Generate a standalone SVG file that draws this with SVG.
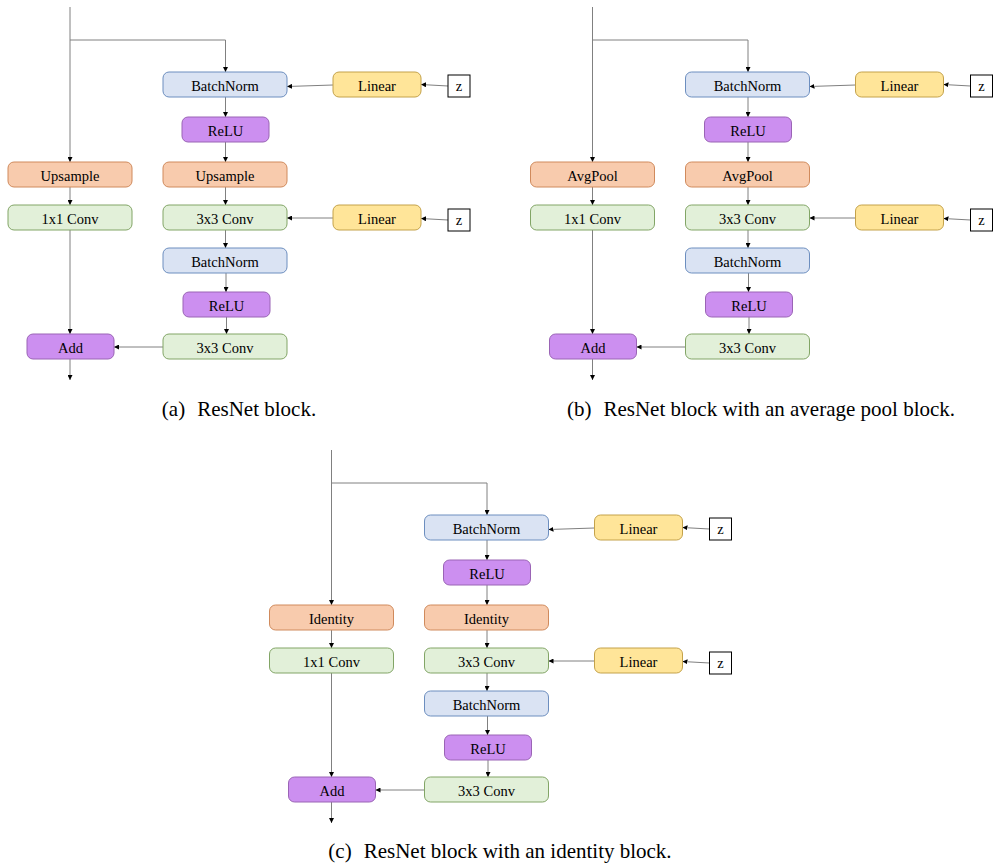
<svg xmlns="http://www.w3.org/2000/svg" width="995" height="867" viewBox="0 0 995 867">
<defs>
<style>
.bn{fill:#dae3f3;stroke:#6c8ebf;stroke-width:1}
.relu{fill:#cc8ff0;stroke:#9a64b5;stroke-width:1}
.up{fill:#f8cbad;stroke:#d08a5c;stroke-width:1}
.conv{fill:#e2f0d9;stroke:#82a566;stroke-width:1}
.lin{fill:#ffe599;stroke:#c4a24a;stroke-width:1}
.zb{fill:#ffffff;stroke:#000000;stroke-width:1}
.edge{fill:none;stroke:#808080;stroke-width:1;marker-end:url(#ah)}
.t{font-family:'Liberation Serif','Times New Roman',serif;font-size:14.5px;text-anchor:middle;fill:#000}
.cap{font-family:'Liberation Serif','Times New Roman',serif;font-size:21px;text-anchor:middle;fill:#000}
</style>
<marker id="ah" viewBox="0 0 6 6" refX="6" refY="3" markerWidth="5" markerHeight="5" markerUnits="userSpaceOnUse" orient="auto">
<path d="M0,0 L6,3 L0,6 z" fill="#000"/>
</marker>
</defs>
<rect width="995" height="867" fill="#ffffff"/>

<!-- Panel (a) -->
<g id="panel-a">
<g id="a-connectors">
<path class="edge" d="M70,7 V162"/>
<path class="edge" d="M70,40 H225.5 V72"/>
<path class="edge" d="M225.5,97 V117"/>
<path class="edge" d="M225.5,142 V162"/>
<path class="edge" d="M225.5,187 V205"/>
<path class="edge" d="M225.5,230 V248"/>
<path class="edge" d="M226,273 V292"/>
<path class="edge" d="M226.5,317 V334"/>
<path class="edge" d="M163,347 H114"/>
<path class="edge" d="M70,187 V205"/>
<path class="edge" d="M70,230 V334"/>
<path class="edge" d="M70,359 V380"/>
<path class="edge" d="M448,86 L421,84.5"/>
<path class="edge" d="M333,85 L287,86.5"/>
<path class="edge" d="M448,220 L421,218.5"/>
<path class="edge" d="M333,218 H287"/>
</g>
<g id="a-batchnorm1"><rect class="bn" x="163" y="72" width="124" height="25" rx="6"/><text class="t" x="225" y="90.5">BatchNorm</text></g>
<g id="a-relu1"><rect class="relu" x="182" y="117" width="87" height="25" rx="6"/><text class="t" x="225.5" y="135.5">ReLU</text></g>
<g id="a-upsample-right"><rect class="up" x="163" y="162" width="124" height="25" rx="6"/><text class="t" x="225" y="180.5">Upsample</text></g>
<g id="a-conv3-1"><rect class="conv" x="163" y="205" width="124" height="25" rx="6"/><text class="t" x="225" y="223.5">3x3 Conv</text></g>
<g id="a-batchnorm2"><rect class="bn" x="163" y="248" width="124" height="25" rx="6"/><text class="t" x="225" y="266.5">BatchNorm</text></g>
<g id="a-relu2"><rect class="relu" x="183" y="292" width="87" height="25" rx="6"/><text class="t" x="226.5" y="310.5">ReLU</text></g>
<g id="a-conv3-2"><rect class="conv" x="163" y="334" width="124" height="25" rx="6"/><text class="t" x="225" y="352.5">3x3 Conv</text></g>
<g id="a-upsample-left"><rect class="up" x="8" y="162" width="124" height="25" rx="6"/><text class="t" x="70" y="180.5">Upsample</text></g>
<g id="a-conv1"><rect class="conv" x="8" y="205" width="124" height="25" rx="6"/><text class="t" x="70" y="223.5">1x1 Conv</text></g>
<g id="a-add"><rect class="relu" x="27" y="334" width="87" height="25" rx="6"/><text class="t" x="70.5" y="352.5">Add</text></g>
<g id="a-linear1"><rect class="lin" x="333" y="72" width="88" height="25" rx="6"/><text class="t" x="377" y="90.5">Linear</text></g>
<g id="a-z1"><rect class="zb" x="448" y="75" width="22" height="22"/><text class="t" x="459" y="91">z</text></g>
<g id="a-linear2"><rect class="lin" x="333" y="205" width="88" height="25" rx="6"/><text class="t" x="377" y="223.5">Linear</text></g>
<g id="a-z2"><rect class="zb" x="448" y="209" width="22" height="22"/><text class="t" x="459" y="225">z</text></g>
</g>

<!-- Panel (b) -->
<g id="panel-b" transform="translate(522.5,0)">
<g id="b-connectors">
<path class="edge" d="M70,7 V162"/>
<path class="edge" d="M70,40 H225.5 V72"/>
<path class="edge" d="M225.5,97 V117"/>
<path class="edge" d="M225.5,142 V162"/>
<path class="edge" d="M225.5,187 V205"/>
<path class="edge" d="M225.5,230 V248"/>
<path class="edge" d="M226,273 V292"/>
<path class="edge" d="M226.5,317 V334"/>
<path class="edge" d="M163,347 H114"/>
<path class="edge" d="M70,187 V205"/>
<path class="edge" d="M70,230 V334"/>
<path class="edge" d="M70,359 V380"/>
<path class="edge" d="M448,86 L421,84.5"/>
<path class="edge" d="M333,85 L287,86.5"/>
<path class="edge" d="M448,220 L421,218.5"/>
<path class="edge" d="M333,218 H287"/>
</g>
<g id="b-batchnorm1"><rect class="bn" x="163" y="72" width="124" height="25" rx="6"/><text class="t" x="225" y="90.5">BatchNorm</text></g>
<g id="b-relu1"><rect class="relu" x="182" y="117" width="87" height="25" rx="6"/><text class="t" x="225.5" y="135.5">ReLU</text></g>
<g id="b-avgpool-right"><rect class="up" x="163" y="162" width="124" height="25" rx="6"/><text class="t" x="225" y="180.5">AvgPool</text></g>
<g id="b-conv3-1"><rect class="conv" x="163" y="205" width="124" height="25" rx="6"/><text class="t" x="225" y="223.5">3x3 Conv</text></g>
<g id="b-batchnorm2"><rect class="bn" x="163" y="248" width="124" height="25" rx="6"/><text class="t" x="225" y="266.5">BatchNorm</text></g>
<g id="b-relu2"><rect class="relu" x="183" y="292" width="87" height="25" rx="6"/><text class="t" x="226.5" y="310.5">ReLU</text></g>
<g id="b-conv3-2"><rect class="conv" x="163" y="334" width="124" height="25" rx="6"/><text class="t" x="225" y="352.5">3x3 Conv</text></g>
<g id="b-avgpool-left"><rect class="up" x="8" y="162" width="124" height="25" rx="6"/><text class="t" x="70" y="180.5">AvgPool</text></g>
<g id="b-conv1"><rect class="conv" x="8" y="205" width="124" height="25" rx="6"/><text class="t" x="70" y="223.5">1x1 Conv</text></g>
<g id="b-add"><rect class="relu" x="27" y="334" width="87" height="25" rx="6"/><text class="t" x="70.5" y="352.5">Add</text></g>
<g id="b-linear1"><rect class="lin" x="333" y="72" width="88" height="25" rx="6"/><text class="t" x="377" y="90.5">Linear</text></g>
<g id="b-z1"><rect class="zb" x="448" y="75" width="22" height="22"/><text class="t" x="459" y="91">z</text></g>
<g id="b-linear2"><rect class="lin" x="333" y="205" width="88" height="25" rx="6"/><text class="t" x="377" y="223.5">Linear</text></g>
<g id="b-z2"><rect class="zb" x="448" y="209" width="22" height="22"/><text class="t" x="459" y="225">z</text></g>
</g>

<!-- Panel (c) -->
<g id="panel-c" transform="translate(261.5,443)">
<g id="c-connectors">
<path class="edge" d="M70,7 V162"/>
<path class="edge" d="M70,40 H225.5 V72"/>
<path class="edge" d="M225.5,97 V117"/>
<path class="edge" d="M225.5,142 V162"/>
<path class="edge" d="M225.5,187 V205"/>
<path class="edge" d="M225.5,230 V248"/>
<path class="edge" d="M226,273 V292"/>
<path class="edge" d="M226.5,317 V334"/>
<path class="edge" d="M163,347 H114"/>
<path class="edge" d="M70,187 V205"/>
<path class="edge" d="M70,230 V334"/>
<path class="edge" d="M70,359 V380"/>
<path class="edge" d="M448,86 L421,84.5"/>
<path class="edge" d="M333,85 L287,86.5"/>
<path class="edge" d="M448,220 L421,218.5"/>
<path class="edge" d="M333,218 H287"/>
</g>
<g id="c-batchnorm1"><rect class="bn" x="163" y="72" width="124" height="25" rx="6"/><text class="t" x="225" y="90.5">BatchNorm</text></g>
<g id="c-relu1"><rect class="relu" x="182" y="117" width="87" height="25" rx="6"/><text class="t" x="225.5" y="135.5">ReLU</text></g>
<g id="c-identity-right"><rect class="up" x="163" y="162" width="124" height="25" rx="6"/><text class="t" x="225" y="180.5">Identity</text></g>
<g id="c-conv3-1"><rect class="conv" x="163" y="205" width="124" height="25" rx="6"/><text class="t" x="225" y="223.5">3x3 Conv</text></g>
<g id="c-batchnorm2"><rect class="bn" x="163" y="248" width="124" height="25" rx="6"/><text class="t" x="225" y="266.5">BatchNorm</text></g>
<g id="c-relu2"><rect class="relu" x="183" y="292" width="87" height="25" rx="6"/><text class="t" x="226.5" y="310.5">ReLU</text></g>
<g id="c-conv3-2"><rect class="conv" x="163" y="334" width="124" height="25" rx="6"/><text class="t" x="225" y="352.5">3x3 Conv</text></g>
<g id="c-identity-left"><rect class="up" x="8" y="162" width="124" height="25" rx="6"/><text class="t" x="70" y="180.5">Identity</text></g>
<g id="c-conv1"><rect class="conv" x="8" y="205" width="124" height="25" rx="6"/><text class="t" x="70" y="223.5">1x1 Conv</text></g>
<g id="c-add"><rect class="relu" x="27" y="334" width="87" height="25" rx="6"/><text class="t" x="70.5" y="352.5">Add</text></g>
<g id="c-linear1"><rect class="lin" x="333" y="72" width="88" height="25" rx="6"/><text class="t" x="377" y="90.5">Linear</text></g>
<g id="c-z1"><rect class="zb" x="448" y="75" width="22" height="22"/><text class="t" x="459" y="91">z</text></g>
<g id="c-linear2"><rect class="lin" x="333" y="205" width="88" height="25" rx="6"/><text class="t" x="377" y="223.5">Linear</text></g>
<g id="c-z2"><rect class="zb" x="448" y="209" width="22" height="22"/><text class="t" x="459" y="225">z</text></g>
</g>

<g id="captions">
<text class="cap" x="239" y="416">(a)<tspan dx="12">ResNet block.</tspan></text>
<text class="cap" x="761" y="416">(b)<tspan dx="12">ResNet block with an average pool block.</tspan></text>
<text class="cap" x="500" y="858">(c)<tspan dx="12">ResNet block with an identity block.</tspan></text>
</g>
</svg>
